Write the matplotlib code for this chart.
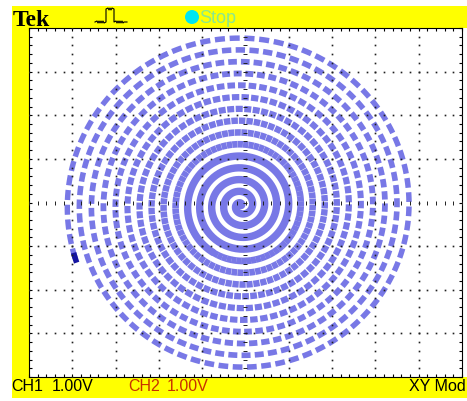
"""
Tek scope screenshot, XY mode: a spiral from two growing sines on CH1 / CH2.
Rebuilt with matplotlib, saved as out.png (467x401).
"""

import numpy as np
import matplotlib
matplotlib.use("Agg")
import matplotlib.pyplot as plt
from matplotlib.collections import LineCollection
from matplotlib.patches import Rectangle, Circle

W, H = 467, 401

# screen: 10 x 8 divisions at 1.00 V/div on both channels
X_DIVS = (-5, 5)
Y_DIVS = (-4, 4)
CH1_LABEL = "CH1"
CH2_LABEL = "CH2"
VOLTS_PER_DIV = ["1.00V", "1.00V"]
MODE_LABEL = "XY Mod"
STATUS_LABEL = "Stop"

# spiral (volts)
N_TURNS = 14.5
AMP_X, AMP_Y = 4.03, 3.92
CENTER_X, CENTER_Y = -0.10, -0.07
END_ANGLE_DEG = 199.5
DASHES_PER_TURN = 72.62
OUTER_RADIUS_PX = 173.0

TRACE = "#7878E6"
TRACE_END = "#1414A0"
YELLOW = "#FFFF00"

fig = plt.figure(figsize=(W / 100, H / 100), dpi=100)
fig.patch.set_facecolor("white")

# pixel-space layer for the frame, header and footer
deco = fig.add_axes([0, 0, 1, 1], zorder=0)
deco.set_xlim(0, W)
deco.set_ylim(H, 0)
deco.axis("off")
deco.add_patch(Rectangle((12, 6), W - 12, 392, color=YELLOW, lw=0))
deco.add_patch(Rectangle((29, 28), W - 29, 349, color="white", lw=0))

deco.text(13, 26, "Tek", fontsize=17, fontweight="bold",
          family="Liberation Serif", color="black", va="baseline")
# trigger pulse icon
px = [95, 97, 98, 99, 100, 101, 102, 103, 104, 106, 106, 108, 109, 110, 111,
      112, 114, 114, 116, 117, 118, 119, 120, 121, 122, 123, 124, 127]
py = [22, 21, 23, 21, 23, 21, 23, 21, 23, 22, 9, 8, 10, 8, 10,
      8, 9, 22, 21, 23, 21, 23, 21, 23, 21, 23, 22, 22]
deco.plot(px, py, color="black", lw=0.8)
deco.add_patch(Circle((192, 17), 7, color="#00E6F0", lw=0))
deco.text(199, 23, STATUS_LABEL, fontsize=13, family="Liberation Sans",
          color="#8BE88B", va="baseline")

foot = dict(fontsize=11.5, family="Liberation Sans", va="baseline")
deco.text(11, 391, CH1_LABEL, color="black", **foot)
deco.text(52, 391, VOLTS_PER_DIV[0], color="black", **foot)
deco.text(128, 391, CH2_LABEL, color="#C83200", **foot)
deco.text(167, 391, VOLTS_PER_DIV[1], color="#C83200", **foot)
deco.text(466, 391, MODE_LABEL, color="black", ha="right", **foot)

# graticule
ax = fig.add_axes([29 / W, (H - 377) / H, 433 / W, 349 / H], zorder=1)
ax.set_facecolor("white")
ax.set_xlim(*X_DIVS)
ax.set_ylim(*Y_DIVS)
ax.set_xticks(np.arange(X_DIVS[0], X_DIVS[1] + 1, 1))
ax.set_yticks(np.arange(Y_DIVS[0], Y_DIVS[1] + 1, 1))
ax.set_xticks(np.arange(X_DIVS[0], X_DIVS[1] + 0.01, 0.2), minor=True)
ax.set_yticks(np.arange(Y_DIVS[0], Y_DIVS[1] + 0.01, 0.2), minor=True)
ax.tick_params(which="both", direction="in", length=2.4, width=0.8,
               top=True, right=True, labelbottom=False, labelleft=False,
               color="black")
for s in ax.spines.values():
    s.set_linewidth(0.8)
    s.set_color("black")

fine_x = np.arange(X_DIVS[0], X_DIVS[1] + 0.01, 0.2)
fine_y = np.arange(Y_DIVS[0], Y_DIVS[1] + 0.01, 0.2)
for gx in range(X_DIVS[0] + 1, X_DIVS[1]):
    if gx == 0:
        continue
    ax.plot(np.full_like(fine_y, gx), fine_y, ls="none", marker="s", ms=1.2,
            mew=0, color="#202020", zorder=3)
for gy in range(Y_DIVS[0] + 1, Y_DIVS[1]):
    if gy == 0:
        continue
    ax.plot(fine_x, np.full_like(fine_x, gy), ls="none", marker="s", ms=1.2,
            mew=0, color="#202020", zorder=3)
ax.plot(fine_x, np.zeros_like(fine_x), ls="none", marker="|", ms=2.8,
        mew=0.7, color="#202020", zorder=3)
ax.plot(np.zeros_like(fine_y), fine_y, ls="none", marker="_", ms=2.8,
        mew=0.7, color="#202020", zorder=3)

# spiral trace
theta_max = 2 * np.pi * N_TURNS
phase = np.radians(END_ANGLE_DEG) - theta_max


def spiral(t):
    f = t / theta_max
    a = t + phase
    return CENTER_X + AMP_X * f * np.cos(a), CENTER_Y + AMP_Y * f * np.sin(a)


def lw_at(t):
    r = t / theta_max
    return (7.4 - 2.0 * r) * 0.72


t0 = theta_max * 55 / OUTER_RADIUS_PX
t_in = np.linspace(0, t0, 1000)
xi, yi = spiral(t_in)
ax.plot(xi, yi, color=TRACE, lw=lw_at(0), solid_capstyle="round", zorder=2)

step = 2 * np.pi / DASHES_PER_TURN
segs, widths = [], []
k = int(t0 // step)
while k * step < theta_max:
    start = max(k * step, t0)
    r_px = OUTER_RADIUS_PX * start / theta_max
    gap = np.clip((r_px - 55) / 75, 0, 1) * 0.32
    end = min(k * step + step * (1 - gap) + (0.004 if gap < 0.02 else 0),
              theta_max)
    if end > start:
        tt = np.linspace(start, end, 8)
        sx, sy = spiral(tt)
        segs.append(np.column_stack([sx, sy]))
        widths.append(lw_at(start))
    k += 1
ax.add_collection(LineCollection(segs, colors=TRACE, linewidths=widths,
                                 capstyle="butt", zorder=2))

t_end = np.linspace(theta_max - 0.06, theta_max, 10)
ex, ey = spiral(t_end)
ax.plot(ex, ey, color=TRACE_END, lw=4.0, solid_capstyle="butt", zorder=2.5)

fig.savefig("out.png", dpi=100)
